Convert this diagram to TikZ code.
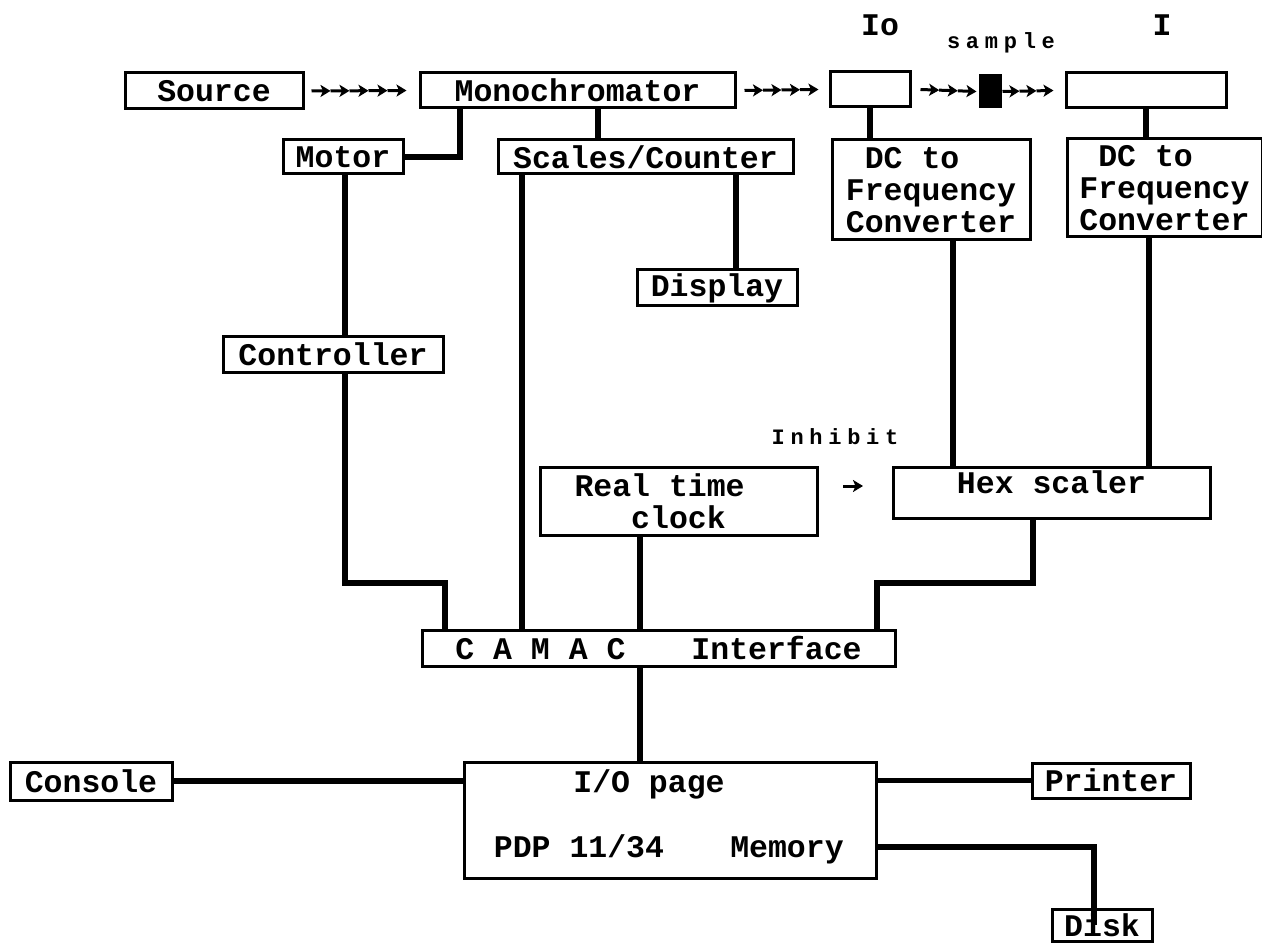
\documentclass[tikz,border=0pt]{standalone}
\usepackage{fontspec}
\setmonofont{Liberation Mono}
\newfontfamily\smallmono{Liberation Mono}[LetterSpace=26]
\usetikzlibrary{arrows.meta,calc}
\newcommand\bigtext{\ttfamily\bfseries\fontsize{31.5}{32}\selectfont}
\newcommand\smalltext{\smallmono\bfseries\fontsize{22}{24}\selectfont}
\newcommand\chainarrows[3]{%
  \foreach \k in {1,...,#3}{%
    \pgfmathsetmacro\fa{(\k-1)/#3}%
    \pgfmathsetmacro\fb{\k/#3}%
    \draw[chainarr] ($(#1)!\fa!(#2)$) -- ($(#1)!\fb!(#2)$);
  }}
\begin{document}
\begin{tikzpicture}[x=1pt,y=-1pt,
  box/.style={draw, line width=3pt, rectangle, inner sep=0pt, font=\bigtext, align=center},
  conn/.style={line width=5.5pt, line join=miter},
  chainarr/.style={line width=3pt, -{Stealth[length=10pt,width=12pt,inset=2.5pt]}}]
\useasboundingbox (0,0) rectangle (1262,944);
\fill[white] (0,0) rectangle (1262,944);

% boxes
\node[box, minimum width=178pt, minimum height=36pt] (src) at (214,91) {Source};
\node[box, minimum width=315pt, minimum height=35pt] (mono) at (577.5,90.5) {Monochromator};
\node[box, minimum width=80pt, minimum height=35pt] (io) at (870,89.5) {};
\node[draw, fill=black, line width=1pt, minimum width=22pt, minimum height=33pt, inner sep=0pt] (sample) at (990,91.5) {};
\node[box, minimum width=160pt, minimum height=35pt] (ibox) at (1146,90.5) {};
\node[box, minimum width=120pt, minimum height=34pt] (motor) at (343,157) {Motor};
\node[box, minimum width=295pt, minimum height=34pt] (scales) at (645.5,157) {Scales/Counter};
\node[box, minimum width=198pt, minimum height=100pt, align=left] (dc1) at (931,190) {\phantom{x}DC to\\Frequency\\Converter};
\node[box, minimum width=195pt, minimum height=98pt, align=left] (dc2) at (1164.5,188) {\phantom{x}DC to\\Frequency\\Converter};
\node[box, minimum width=160pt, minimum height=36pt] (display) at (717,288) {Display};
\node[box, minimum width=220pt, minimum height=36pt] (ctrl) at (333,354) {Controller};
\node[box, minimum width=277pt, minimum height=68pt, align=left] (rtc) at (678.5,501) {Real time\phantom{xx}\\\phantom{xxx}clock};
\node[box, minimum width=317pt, minimum height=51pt] (hex) at (1051.5,492.5) {\raisebox{7pt}[22pt][7pt]{Hex scaler}};
\node[box, minimum width=473pt, minimum height=36pt] (camac) at (658.5,648) {C~A~M~A~C\hspace{66pt}Interface};
\node[box, minimum width=412pt, minimum height=116pt] (pdp) at (670,820) {};
\node[font=\bigtext, anchor=base] (iopage) at (649,792) {I/O page};
\node[font=\bigtext, anchor=base] (pdpname) at (579,857) {PDP 11/34};
\node[font=\bigtext, anchor=base] (memory) at (787,857) {Memory};
\node[box, minimum width=162pt, minimum height=38pt] (console) at (91,781) {Console};
\node[box, minimum width=158pt, minimum height=35pt] (printer) at (1111,780.5) {Printer};
\node[box, minimum width=100pt, minimum height=32pt] (disk) at (1102,925) {Disk};

% labels
\node[font=\bigtext] (iolabel) at (880,25) {Io};
\node[font=\bigtext] (ilabel) at (1162,25) {I};
\node[font=\smalltext] (samplelabel) at (1001,43) {sample};
\node[font=\smalltext] (inhibit) at (835,437) {Inhibit};

% beam arrows
\coordinate (a1) at ([xshift=7pt]src.east);   \coordinate (b1) at ([xshift=-12pt]mono.west);
\coordinate (a2) at ([xshift=8pt]mono.east);  \coordinate (b2) at ([xshift=-10pt]io.west);
\coordinate (a3) at ([xshift=9pt]io.east);    \coordinate (b3) at ([xshift=-2pt]sample.west);
\coordinate (a4) at ([xshift=1pt]sample.east);\coordinate (b4) at ([xshift=-11pt]ibox.west);
\chainarrows{a1}{b1}{5}
\chainarrows{a2}{b2}{4}
\chainarrows{a3}{b3}{3}
\chainarrows{a4}{b4}{3}
\coordinate (inhA) at (843,486); \coordinate (inhB) at (863,486);
\draw[chainarr] (inhA) -- (inhB);

% connector columns / rows
\coordinate (c460) at (460,0);
\coordinate (c598) at (598,0);
\coordinate (c345) at (345,0);
\coordinate (c445) at (445,0);
\coordinate (c522) at (522,0);
\coordinate (c736) at (736,0);
\coordinate (c953) at (953,0);
\coordinate (c1149) at (1149,0);
\coordinate (c640) at (640,0);
\coordinate (c1033) at (1033,0);
\coordinate (c877) at (877,0);
\coordinate (c1094) at (1094,0);
\coordinate (r583) at (0,583);
\coordinate (r847) at (0,847);

\draw[conn] (mono.south -| c460) |- (motor.east);
\draw[conn] (mono.south -| c598) -- (scales.north -| c598);
\draw[conn] (motor.south -| c345) -- (ctrl.north -| c345);
\draw[conn] (ctrl.south -| c345) |- (c445 |- r583) -- (camac.north -| c445);
\draw[conn] (scales.south -| c522) -- (camac.north -| c522);
\draw[conn] (scales.south -| c736) -- (display.north -| c736);
\draw[conn] (io.south) -- (io.south |- dc1.north);
\draw[conn] (ibox.south) -- (ibox.south |- dc2.north);
\draw[conn] (dc1.south -| c953) -- (hex.north -| c953);
\draw[conn] (dc2.south -| c1149) -- (hex.north -| c1149);
\draw[conn] (rtc.south -| c640) -- (camac.north -| c640);
\draw[conn] (hex.south -| c1033) |- (c877 |- r583) -- (camac.north -| c877);
\draw[conn] (camac.south -| c640) -- (pdp.north -| c640);
\draw[conn] (console.east) -- (console.east -| pdp.west);
\draw[conn] (pdp.east |- printer.west) -- (printer.west);
\draw[conn] (pdp.east |- r847) -| (c1094 |- disk.center);
\end{tikzpicture}
\end{document}
